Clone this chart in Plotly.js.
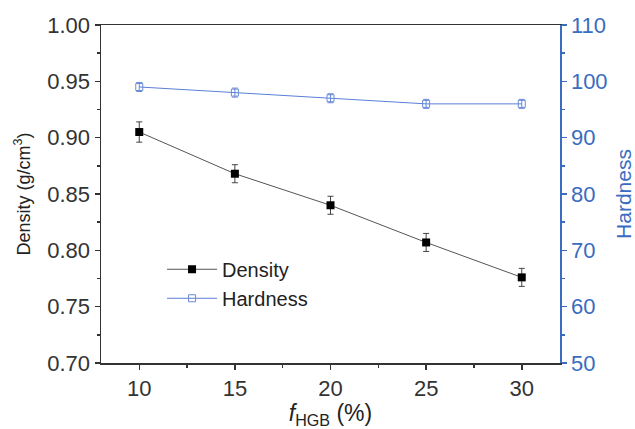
<!DOCTYPE html>
<html>
<head>
<meta charset="utf-8">
<script src="https://cdn.plot.ly/plotly-3.0.1.min.js"></script>
<style>html,body{margin:0;padding:0;background:#fff;}#chart{width:635px;height:429px;}</style>
</head>
<body>
<div id="chart"></div>
<script>
const fHGB = [10, 15, 20, 25, 30];
const density = [0.905, 0.868, 0.840, 0.807, 0.776];
const densityErr = [0.009, 0.008, 0.008, 0.008, 0.008];
const hardness = [99, 98, 97, 96, 96];
const hardnessErr = [0.8, 0.8, 0.8, 0.8, 0.8];
const densityTicks = [0.70, 0.75, 0.80, 0.85, 0.90, 0.95, 1.00];
const hardnessTicks = [50, 60, 70, 80, 90, 100, 110];

const blue = '#3a6cc0';
const font = 'Liberation Sans, Arial, sans-serif';

const traces = [
  {
    x: fHGB, y: density, name: 'Density', type: 'scatter', mode: 'lines+markers',
    line: {color: '#555555', width: 1},
    marker: {symbol: 'square', size: 8, color: '#000000'},
    error_y: {type: 'data', array: densityErr, visible: true, color: '#444444', thickness: 1, width: 3}
  },
  {
    x: fHGB, y: hardness, name: 'Hardness', type: 'scatter', mode: 'lines+markers', yaxis: 'y2',
    line: {color: '#5a7fd6', width: 1},
    marker: {symbol: 'square-open', size: 7, color: '#6a8ad8', line: {width: 1}},
    error_y: {type: 'data', array: hardnessErr, visible: true, color: '#6a8ad8', thickness: 1, width: 3}
  }
];

const layout = {
  width: 635, height: 429,
  margin: {l: 101, r: 75, t: 25, b: 66},
  paper_bgcolor: '#ffffff', plot_bgcolor: '#ffffff',
  font: {family: font, size: 20, color: '#222222'},
  showlegend: true,
  legend: {x: 0.133, y: 0.335, xanchor: 'left', yanchor: 'top', bgcolor: 'rgba(0,0,0,0)', font: {size: 20, color: '#222'}, tracegroupgap: 0, itemwidth: 50},
  xaxis: {
    range: [8, 32], tickvals: fHGB, ticks: 'outside', ticklen: 5, tickwidth: 1.5, tickcolor: '#333',
    showline: true, linecolor: '#333', linewidth: 1.5, mirror: true, showgrid: false, zeroline: false,
    minor: {dtick: 2.5, ticks: 'outside', ticklen: 3, tickcolor: '#333', tickwidth: 1.5, showgrid: false},
    title: {text: '<i>f</i><sub>HGB</sub> (%)', font: {size: 23, color: '#222'}, standoff: 4},
    tickfont: {size: 22, color: '#333'}
  },
  yaxis: {
    range: [0.70, 1.00], tickvals: densityTicks, tickformat: '.2f', ticks: 'outside', ticklen: 5, tickwidth: 1.5, tickcolor: '#333',
    showline: true, linecolor: '#333', linewidth: 1.5, showgrid: false, zeroline: false,
    minor: {dtick: 0.025, ticks: 'outside', ticklen: 3, tickcolor: '#333', tickwidth: 1.5, showgrid: false},
    title: {text: 'Density (g/cm<sup>3</sup>)', font: {size: 18, color: '#222'}, standoff: 12},
    tickfont: {size: 22, color: '#333'}
  },
  yaxis2: {
    overlaying: 'y', side: 'right', range: [50, 110], tickvals: hardnessTicks, ticks: 'outside', ticklen: 5, tickwidth: 1.5, tickcolor: blue,
    showline: true, linecolor: blue, linewidth: 1.5, showgrid: false, zeroline: false,
    minor: {dtick: 5, ticks: 'outside', ticklen: 3, tickcolor: blue, tickwidth: 1.5, showgrid: false},
    title: {text: 'Hardness', font: {size: 21, color: blue}, standoff: 10},
    tickfont: {size: 22, color: blue}
  }
};

Plotly.newPlot('chart', traces, layout, {displayModeBar: false, staticPlot: true});
</script>
</body>
</html>
